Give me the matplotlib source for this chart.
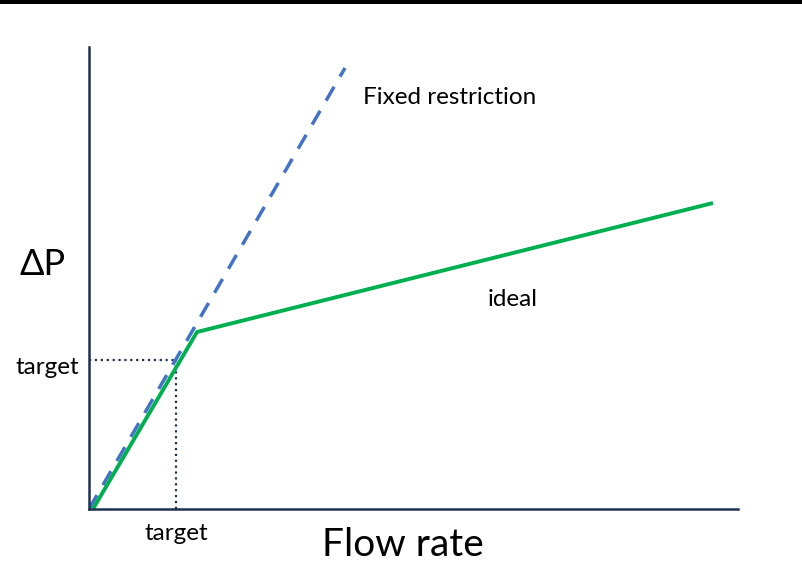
import matplotlib
import matplotlib.pyplot as plt
from matplotlib.patches import Rectangle

matplotlib.rcParams['font.family'] = ['Lato', 'DejaVu Sans']

# sketch values (arbitrary units)
fixed_x = [0, 256]
fixed_y = [0, 441]
ideal_x = [4, 108, 624]
ideal_y = [0, 177, 306]
target_x = 87
target_y = 149

W, H = 803, 571
fig = plt.figure(figsize=(W / 100, H / 100), dpi=100)
ax = fig.add_axes([89 / W, (H - 509) / H, 649 / W, 462 / H])
ax.set_xlim(0, 649)
ax.set_ylim(0, 462)

navy = '#1f3050'
for s in ['top', 'right']:
    ax.spines[s].set_visible(False)
for s in ['left', 'bottom']:
    ax.spines[s].set_color(navy)
    ax.spines[s].set_linewidth(1.8)
ax.set_xticks([])
ax.set_yticks([])

ax.plot([target_x, target_x], [0, target_y], ls=':', color=navy, lw=1.6)
ax.plot([0, target_x], [target_y, target_y], ls=':', color=navy, lw=1.6)
ax.plot(fixed_x, fixed_y, color='#4472c4', lw=2.5, ls=(0, (4.6, 3.4)))
ax.plot(ideal_x, ideal_y, color='#00b050', lw=2.8, solid_capstyle='butt')

fig.text(43 / W, 1 - 265 / H, 'ΔP', fontsize=26, ha='center', va='center')
fig.text(403 / W, 1 - 545 / H, 'Flow rate', fontsize=28, ha='center', va='center')
fig.text(47 / W, 1 - 368 / H, 'target', fontsize=17.5, ha='center', va='center')
fig.text(176 / W, 1 - 533 / H, 'target', fontsize=17.5, ha='center', va='center')
fig.text(450 / W, 1 - 97 / H, 'Fixed restriction', fontsize=17.5, ha='center', va='center')
fig.text(513 / W, 1 - 300 / H, 'ideal', fontsize=17.5, ha='center', va='center')

fig.add_artist(Rectangle((0, 1 - 4 / H), 1, 4 / H, transform=fig.transFigure,
                         color='black', lw=0))

plt.savefig('out.png', dpi=100)
